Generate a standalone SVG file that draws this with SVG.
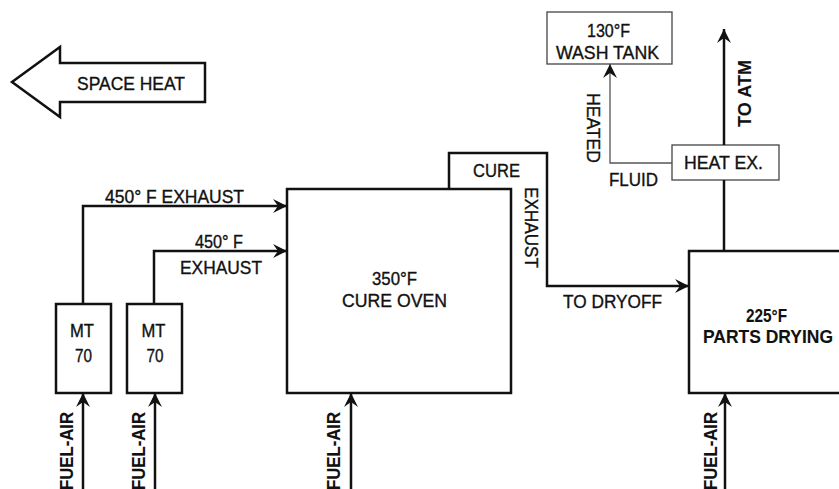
<svg xmlns="http://www.w3.org/2000/svg" width="839" height="489" viewBox="0 0 839 489">
<style>
.t{font-family:"Liberation Sans",Arial,sans-serif;font-size:18px;fill:#111;stroke:#111;stroke-width:0.35;}
.b{font-weight:bold;stroke-width:0.1;}
.m{text-anchor:middle;}
.box{fill:#fff;stroke:#111;stroke-width:2.5;}
.thin{fill:#fff;stroke:#444;stroke-width:1.3;}
.ln{fill:none;stroke:#111;stroke-width:2.5;}
.lnt{fill:none;stroke:#555;stroke-width:1.3;}
</style>
<defs>
<marker id="ah" viewBox="-15 -8 16 16" refX="0" refY="0" markerWidth="16" markerHeight="16" markerUnits="userSpaceOnUse" orient="auto">
<path d="M0,0 L-14,-7 L-9,0 L-14,7 Z" fill="#111"/>
</marker>
</defs>
<rect width="839" height="489" fill="#fff"/>

<g id="space-heat">
<polygon class="box" points="12,82 60,47 60,63 205,63 205,102 60,102 60,117"/>
<text class="t" x="77" y="90" textLength="108" lengthAdjust="spacingAndGlyphs">SPACE HEAT</text>
</g>

<g id="wash-tank">
<rect class="thin" x="547" y="12" width="125" height="52"/>
<text class="t m" x="608.5" y="37" textLength="43" lengthAdjust="spacingAndGlyphs">130°F</text>
<text class="t m" x="607.5" y="59" textLength="103" lengthAdjust="spacingAndGlyphs">WASH TANK</text>
</g>

<g id="heat-ex">
<rect class="thin" x="672" y="145" width="107" height="35"/>
<text class="t" x="684" y="169" textLength="79" lengthAdjust="spacingAndGlyphs">HEAT EX.</text>
</g>

<g id="cure-oven">
<rect class="box" x="287" y="189" width="224" height="204"/>
<text class="t m" x="394.5" y="285" textLength="45" lengthAdjust="spacingAndGlyphs">350°F</text>
<text class="t m" x="394.5" y="307" textLength="105" lengthAdjust="spacingAndGlyphs">CURE OVEN</text>
</g>

<g id="parts-drying">
<rect class="box" x="689" y="251" width="170" height="142"/>
<text class="t b m" x="766.5" y="322" textLength="41" lengthAdjust="spacingAndGlyphs">225°F</text>
<text class="t b" x="703" y="343" textLength="130" lengthAdjust="spacingAndGlyphs">PARTS DRYING</text>
</g>

<g id="mt70-1">
<rect class="box" x="56" y="304" width="55" height="89"/>
<text class="t m" x="82" y="337" textLength="24" lengthAdjust="spacingAndGlyphs">MT</text>
<text class="t m" x="83.5" y="362" textLength="17" lengthAdjust="spacingAndGlyphs">70</text>
</g>

<g id="mt70-2">
<rect class="box" x="127" y="304" width="55" height="89"/>
<text class="t m" x="153.5" y="337" textLength="24" lengthAdjust="spacingAndGlyphs">MT</text>
<text class="t m" x="155" y="362" textLength="17" lengthAdjust="spacingAndGlyphs">70</text>
</g>

<g id="connectors">
<polyline class="ln" points="83,304 83,206 287,206" marker-end="url(#ah)"/>
<polyline class="ln" points="154,304 154,251 287,251" marker-end="url(#ah)"/>
<polyline class="ln" points="449,189 449,153 547,153 547,286 689,286" marker-end="url(#ah)"/>
<line class="ln" x1="724" y1="251" x2="724" y2="180"/>
<line class="ln" x1="724" y1="145" x2="724" y2="29" marker-end="url(#ah)"/>
<polyline class="lnt" points="672,163 610,163 610,64" marker-end="url(#ah)"/>
<line class="ln" x1="83" y1="489" x2="83" y2="393" marker-end="url(#ah)"/>
<line class="ln" x1="155" y1="489" x2="155" y2="393" marker-end="url(#ah)"/>
<line class="ln" x1="351" y1="489" x2="351" y2="393" marker-end="url(#ah)"/>
<line class="ln" x1="725" y1="489" x2="725" y2="393" marker-end="url(#ah)"/>
</g>

<g id="labels">
<text class="t" x="105" y="203" textLength="139" lengthAdjust="spacingAndGlyphs">450° F EXHAUST</text>
<text class="t" x="195" y="248" textLength="48" lengthAdjust="spacingAndGlyphs">450° F</text>
<text class="t" x="180" y="274" textLength="82" lengthAdjust="spacingAndGlyphs">EXHAUST</text>
<text class="t" x="473" y="177" textLength="47" lengthAdjust="spacingAndGlyphs">CURE</text>
<text class="t" transform="translate(525,187) rotate(90)" textLength="81" lengthAdjust="spacingAndGlyphs">EXHAUST</text>
<text class="t" x="563" y="308" textLength="99" lengthAdjust="spacingAndGlyphs">TO DRYOFF</text>
<text class="t" transform="translate(587,93) rotate(90)" textLength="70" lengthAdjust="spacingAndGlyphs">HEATED</text>
<text class="t" x="609" y="186" textLength="49" lengthAdjust="spacingAndGlyphs">FLUID</text>
<text class="t b" transform="translate(751,127) rotate(-90)" textLength="67" lengthAdjust="spacingAndGlyphs">TO ATM</text>
<text class="t b" transform="translate(73,490) rotate(-90)" textLength="78" lengthAdjust="spacingAndGlyphs">FUEL-AIR</text>
<text class="t b" transform="translate(145,490) rotate(-90)" textLength="78" lengthAdjust="spacingAndGlyphs">FUEL-AIR</text>
<text class="t b" transform="translate(340,490) rotate(-90)" textLength="78" lengthAdjust="spacingAndGlyphs">FUEL-AIR</text>
<text class="t b" transform="translate(717,490) rotate(-90)" textLength="78" lengthAdjust="spacingAndGlyphs">FUEL-AIR</text>
</g>
</svg>
